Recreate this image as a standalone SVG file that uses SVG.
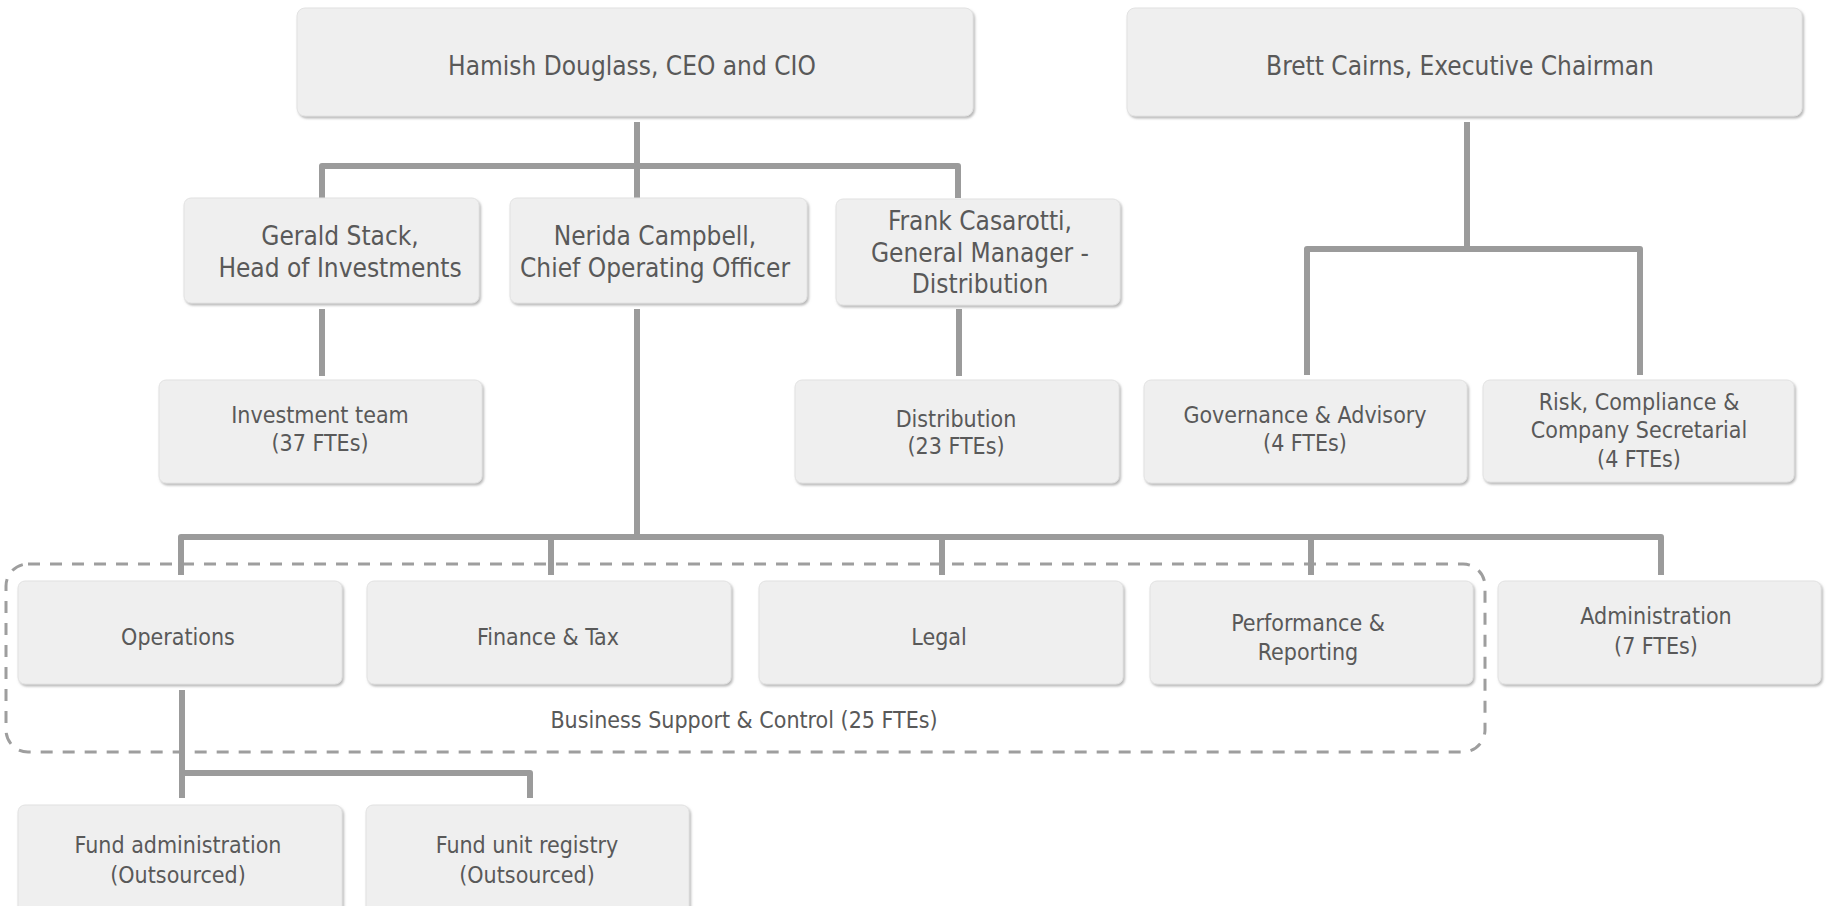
<svg xmlns="http://www.w3.org/2000/svg" width="1829" height="906" viewBox="0 0 1829 906">
<defs>
<filter id="sh" x="-5%" y="-5%" width="110%" height="115%">
<feDropShadow dx="1.5" dy="2" stdDeviation="1" flood-color="#8a8a8a" flood-opacity="0.6"/>
</filter>
</defs>
<style>
.box{fill:#efefef;stroke:#e2e2e2;stroke-width:1;filter:url(#sh)}
.t{font-family:"DejaVu Sans Condensed","DejaVu Sans",sans-serif;font-stretch:condensed;fill:#595959;text-anchor:middle}
.l{font-size:26px}
.s{font-size:23px}
.c{fill:none;stroke:#9b9b9b;stroke-width:6;stroke-linejoin:round}
.d{fill:none;stroke:#9e9e9e;stroke-width:3;stroke-dasharray:12 10}
</style>
<rect class="d" x="6" y="564" width="1479" height="188" rx="22"/>
<text class="t s" x="744" y="728">Business Support &amp; Control (25 FTEs)</text>
<g id="connectors">
<path class="c" d="M637 122V198"/>
<path class="c" d="M322 198V166H958V198"/>
<path class="c" d="M322 309V376"/>
<path class="c" d="M959 309V376"/>
<path class="c" d="M637 309V537"/>
<path class="c" d="M181 575V537H1661V575"/>
<path class="c" d="M551 537V575"/>
<path class="c" d="M942 537V575"/>
<path class="c" d="M1311 537V575"/>
<path class="c" d="M1467 122V249"/>
<path class="c" d="M1307 375V249H1640V375"/>
<path class="c" d="M182 690V798"/>
<path class="c" d="M182 773H530V798"/>
</g>
<g id="ceo"><rect class="box" x="297" y="8" width="676" height="108" rx="8"/><text class="t l" x="632" y="75">Hamish Douglass, CEO and CIO</text></g>
<g id="chairman"><rect class="box" x="1127" y="8" width="675" height="108" rx="8"/><text class="t l" x="1460" y="75">Brett Cairns, Executive Chairman</text></g>
<g id="gerald"><rect class="box" x="184" y="198" width="295" height="105" rx="7"/><text class="t l" x="340" y="245">Gerald Stack,</text><text class="t l" x="340" y="277">Head of Investments</text></g>
<g id="nerida"><rect class="box" x="510" y="198" width="297" height="105" rx="7"/><text class="t l" x="655" y="245">Nerida Campbell,</text><text class="t l" x="655" y="277">Chief Operating Officer</text></g>
<g id="frank"><rect class="box" x="836" y="199" width="284" height="106" rx="7"/><text class="t l" x="980" y="230">Frank Casarotti,</text><text class="t l" x="980" y="262">General Manager -</text><text class="t l" x="980" y="293">Distribution</text></g>
<g id="investment"><rect class="box" x="159" y="380" width="323" height="103" rx="7"/><text class="t s" x="320" y="423">Investment team</text><text class="t s" x="320" y="451">(37 FTEs)</text></g>
<g id="distribution"><rect class="box" x="795" y="380" width="324" height="103" rx="7"/><text class="t s" x="956" y="427">Distribution</text><text class="t s" x="956" y="454">(23 FTEs)</text></g>
<g id="governance"><rect class="box" x="1144" y="380" width="323" height="103" rx="7"/><text class="t s" x="1305" y="423">Governance &amp; Advisory</text><text class="t s" x="1305" y="451">(4 FTEs)</text></g>
<g id="risk"><rect class="box" x="1483" y="380" width="311" height="102" rx="7"/><text class="t s" x="1639" y="410">Risk, Compliance &amp;</text><text class="t s" x="1639" y="438">Company Secretarial</text><text class="t s" x="1639" y="467">(4 FTEs)</text></g>
<g id="operations"><rect class="box" x="18" y="581" width="324" height="103" rx="7"/><text class="t s" x="178" y="645">Operations</text></g>
<g id="finance"><rect class="box" x="367" y="581" width="364" height="103" rx="7"/><text class="t s" x="548" y="645">Finance &amp; Tax</text></g>
<g id="legal"><rect class="box" x="759" y="581" width="364" height="103" rx="7"/><text class="t s" x="939" y="645">Legal</text></g>
<g id="performance"><rect class="box" x="1150" y="581" width="323" height="103" rx="7"/><text class="t s" x="1308" y="631">Performance &amp;</text><text class="t s" x="1308" y="660">Reporting</text></g>
<g id="administration"><rect class="box" x="1498" y="581" width="323" height="103" rx="7"/><text class="t s" x="1656" y="624">Administration</text><text class="t s" x="1656" y="654">(7 FTEs)</text></g>
<g id="fundadmin"><rect class="box" x="18" y="805" width="324" height="110" rx="7"/><text class="t s" x="178" y="853">Fund administration</text><text class="t s" x="178" y="883">(Outsourced)</text></g>
<g id="fundunit"><rect class="box" x="366" y="805" width="323" height="110" rx="7"/><text class="t s" x="527" y="853">Fund unit registry</text><text class="t s" x="527" y="883">(Outsourced)</text></g>
</svg>
